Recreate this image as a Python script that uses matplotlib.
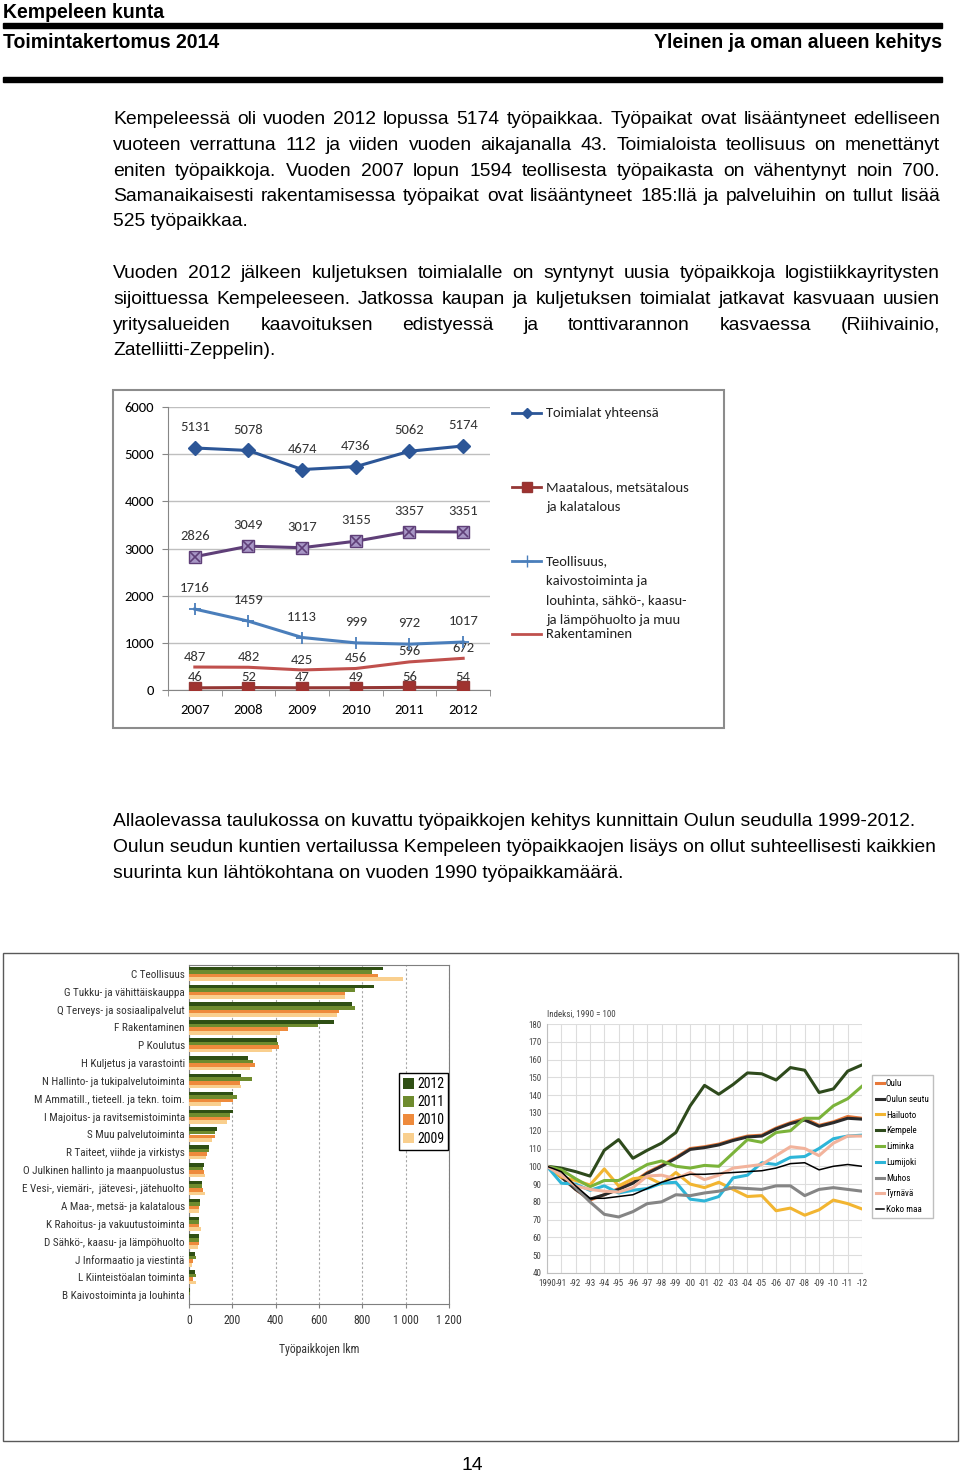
import numpy as np
import matplotlib
matplotlib.use('Agg')
import matplotlib.pyplot as plt
import matplotlib.font_manager as fm
from matplotlib.patches import Rectangle
from matplotlib.lines import Line2D

# fonttien valinta
names = {f.name for f in fm.fontManager.ttflist}

def pick(*cands):
    for c in cands:
        if c in names:
            return c
    return 'DejaVu Sans'

SANS = pick('Liberation Sans', 'Arimo', 'DejaVu Sans')
NARROW = pick('Liberation Sans Narrow', 'Arial Narrow', 'Roboto Condensed', 'Roboto')
NF = 1.0 if 'Narrow' in NARROW or 'Condensed' in NARROW else 0.85
CAL = pick('Carlito', 'Lato', 'Open Sans')

# --- kaavio 1: työpaikat toimialoittain ---
years1 = ['2007', '2008', '2009', '2010', '2011', '2012']
total = [5131, 5078, 4674, 4736, 5062, 5174]
services = [2826, 3049, 3017, 3155, 3357, 3351]
industry = [1716, 1459, 1113, 999, 972, 1017]
construction = [487, 482, 425, 456, 596, 672]
agriculture = [46, 52, 47, 49, 56, 54]

# --- kaavio 2: työpaikat toimialoittain 2009-2012 ---
branches = ['C Teollisuus', 'G Tukku- ja vähittäiskauppa', 'Q Terveys- ja sosiaalipalvelut',
            'F Rakentaminen', 'P Koulutus', 'H Kuljetus ja varastointi',
            'N Hallinto- ja tukipalvelutoiminta', 'M Ammatill., tieteell. ja tekn. toim.',
            'I Majoitus- ja ravitsemistoiminta', 'S Muu palvelutoiminta',
            'R Taiteet, viihde ja virkistys', 'O Julkinen hallinto ja maanpuolustus',
            'E Vesi-, viemäri-,  jätevesi-, jätehuolto', 'A Maa-, metsä- ja kalatalous',
            'K Rahoitus- ja vakuutustoiminta', 'D Sähkö-, kaasu- ja lämpöhuolto',
            'J Informaatio ja viestintä', 'L Kiinteistöalan toiminta', 'B Kaivostoiminta ja louhinta']
bar_years = ['2012', '2011', '2010', '2009']
v2012 = [894, 854, 752, 669, 406, 272, 242, 205, 203, 129, 91, 69, 62, 52, 45, 45, 27, 27, 5]
v2011 = [845, 768, 768, 595, 409, 297, 289, 220, 191, 119, 91, 66, 62, 53, 44, 47, 33, 30, 3]
v2010 = [872, 718, 694, 457, 415, 305, 237, 205, 189, 122, 83, 70, 64, 48, 48, 47, 17, 20, 2]
v2009 = [986, 722, 685, 422, 382, 282, 238, 146, 174, 108, 77, 72, 72, 48, 55, 41, 13, 31, 2]
bar_colors = ['#2F4F14', '#6E8B2E', '#EE8A3C', '#F9CF8E']

# --- kaavio 3: indeksi 1990 = 100 ---
idx_years = np.arange(1990, 2013)
idx_labels = ['1990'] + ['-%02d' % (y % 100) for y in range(1991, 2013)]
municipalities = ['Oulu', 'Oulun seutu', 'Hailuoto', 'Kempele', 'Liminka',
                  'Lumijoki', 'Muhos', 'Tyrnävä', 'Koko maa']
oulu = [100, 94, 87, 81, 84, 87.5, 91, 96.5, 100.5, 105, 110, 111, 112.5, 115, 117, 117.5,
        121.5, 124.5, 127, 123, 125, 128, 127]
oulun_seutu = [100, 94, 87, 81.5, 84, 87, 90.5, 96, 100, 104.5, 109.5, 110.5, 112, 114.5,
               116.5, 117, 121, 124, 126, 122.5, 124.5, 127, 126.5]
hailuoto = [100, 94, 92, 89.5, 98.5, 89, 93, 94, 90, 96.5, 90, 88, 91, 87, 83, 83.5, 75,
            76.5, 72.5, 75.5, 81, 79, 76]
kempele = [100, 99, 97, 94.5, 109, 115, 104.5, 109, 113, 119, 134, 145.5, 140.5, 146, 152.5,
           152, 148.5, 155.5, 154, 141.5, 143.5, 153.5, 157]
liminka = [100, 98, 93, 88.5, 92, 92, 96.5, 101, 103, 100, 99, 100.5, 100, 107.5, 115, 113.5,
           119, 120, 127, 127, 134, 138, 145]
lumijoki = [100, 90.5, 90, 86.5, 89, 85, 86.5, 87.5, 90.5, 91, 81.5, 80.5, 83, 93.5, 95, 102,
            101, 105, 105.5, 110, 115.5, 117, 117.5]
muhos = [100, 96, 88, 80, 73, 71.5, 74.5, 79, 80, 84, 83.5, 85, 86, 88, 87.5, 87, 89, 89,
         83.5, 87, 88, 87, 86]
tyrnava = [100, 95, 89, 87, 86, 85.5, 88, 94.5, 95, 93, 96.5, 92.5, 95, 99, 100, 101, 106,
           111, 110, 106, 113, 117, 117]
koko_maa = [100, 97, 89, 82, 82, 83, 84, 87.5, 91, 93.5, 95.5, 95.5, 96, 96.5, 97, 97.5, 99,
            101.5, 102, 98, 100, 101, 100]
idx_series = [oulu, oulun_seutu, hailuoto, kempele, liminka, lumijoki, muhos, tyrnava, koko_maa]
idx_colors = ['#E8793A', '#2B2B2B', '#F2B531', '#2E4A1C', '#7BB33A', '#2DB5D8', '#858585',
              '#F2B39C', '#000000']

W, H = 960, 1474
fig = plt.figure(figsize=(W / 100, H / 100), dpi=100)
renderer = fig.canvas.get_renderer()


def fx(x):
    return x / W


def fy(y):
    return 1 - y / H


def px_axes(x0, y0, x1, y1):
    return fig.add_axes([fx(x0), fy(y1), (x1 - x0) / W, (y1 - y0) / H])


def rect(x0, y0, x1, y1, **kw):
    fig.add_artist(Rectangle((fx(x0), fy(y1)), (x1 - x0) / W, (y1 - y0) / H,
                             transform=fig.transFigure, **kw))


def text_w(s, **kw):
    t = fig.text(0, 0, s, **kw)
    w = t.get_window_extent(renderer).width
    t.remove()
    return w


def fit_size(s, width, base=12, **kw):
    return base * width / text_w(s, size=base, **kw)


# otsikko
hsize = fit_size('Yleinen ja oman alueen kehitys', 287, family=SANS, weight='bold')
fig.text(fx(3), fy(12), 'Kempeleen kunta', family=SANS, weight='bold', size=hsize, va='center')
rect(3, 23, 942, 28, color='black')
fig.text(fx(3), fy(42), 'Toimintakertomus 2014', family=SANS, weight='bold', size=hsize, va='center')
fig.text(fx(942), fy(42), 'Yleinen ja oman alueen kehitys', family=SANS, weight='bold',
         size=hsize, va='center', ha='right')
rect(3, 77, 942, 82, color='black')

# leipäteksti
bsize = fit_size('Allaolevassa taulukossa on kuvattu työpaikkojen kehitys kunnittain Oulun seudulla 1999-2012.',
                 805, family=SANS)
TX0, TX1 = 113, 940


def paragraph(lines, y0, step, justify=True):
    for i, line in enumerate(lines):
        y = fy(y0 + i * step)
        last = i == len(lines) - 1
        if not justify or last:
            fig.text(fx(TX0), y, line, family=SANS, size=bsize, va='center')
            continue
        words = line.split()
        ws = [text_w(w, family=SANS, size=bsize) for w in words]
        gap = (TX1 - TX0 - sum(ws)) / (len(words) - 1)
        x = TX0
        for w, wd in zip(words, ws):
            fig.text(fx(x), y, w, family=SANS, size=bsize, va='center')
            x += wd + gap


paragraph(['Kempeleessä oli vuoden 2012 lopussa 5174 työpaikkaa. Työpaikat ovat lisääntyneet edelliseen',
           'vuoteen verrattuna 112 ja viiden vuoden aikajanalla 43. Toimialoista teollisuus on menettänyt',
           'eniten työpaikkoja. Vuoden 2007 lopun 1594 teollisesta työpaikasta on vähentynyt noin 700.',
           'Samanaikaisesti rakentamisessa työpaikat ovat lisääntyneet 185:llä ja palveluihin on tullut lisää',
           '525 työpaikkaa.'], 120, 25.5)
paragraph(['Vuoden 2012 jälkeen kuljetuksen toimialalle on syntynyt uusia työpaikkoja logistiikkayritysten',
           'sijoittuessa Kempeleeseen. Jatkossa kaupan ja kuljetuksen toimialat jatkavat kasvuaan uusien',
           'yritysalueiden kaavoituksen edistyessä ja tonttivarannon kasvaessa (Riihivainio,',
           'Zatelliitti-Zeppelin).'], 274, 25.5)
paragraph(['Allaolevassa taulukossa on kuvattu työpaikkojen kehitys kunnittain Oulun seudulla 1999-2012.',
           'Oulun seudun kuntien vertailussa Kempeleen työpaikkaojen lisäys on ollut suhteellisesti kaikkien',
           'suurinta kun lähtökohtana on vuoden 1990 työpaikkamäärä.'], 822, 25.5, justify=False)

fig.text(fx(472), fy(1466), '14', family=SANS, size=bsize, ha='center', va='center')

# ---------------- kaavio 1 ----------------
rect(113, 390, 724, 728, fill=False, edgecolor='#8C8C8C', lw=1.5)
ax1 = px_axes(168, 407, 490, 690)
x1 = np.arange(len(years1))
ax1.set_xlim(-0.5, 5.5)
ax1.set_ylim(0, 6000)
ax1.set_yticks(range(0, 6001, 1000))
ax1.set_xticks(x1)
ax1.set_xticklabels(years1)
ax1.set_xticks(np.arange(-0.5, 6, 1), minor=True)
ax1.yaxis.grid(True, color='#BFBFBF', lw=1)
ax1.set_axisbelow(True)
for s in ['top', 'right']:
    ax1.spines[s].set_visible(False)
for s in ['left', 'bottom']:
    ax1.spines[s].set_color('#868686')
ax1.tick_params(axis='y', length=4, color='#868686', labelsize=10.5, pad=6)
ax1.tick_params(axis='x', which='major', length=0, labelsize=10.5, pad=10)
ax1.tick_params(axis='x', which='minor', length=4, color='#868686')
for lab in ax1.get_xticklabels() + ax1.get_yticklabels():
    lab.set_family(CAL)

c_total, c_serv, c_ind, c_con, c_agr = '#2C5697', '#5F3F78', '#4A7EBB', '#C0504D', '#953735'
ax1.plot(x1, total, color=c_total, lw=2.2, marker='D', ms=7, zorder=4)
ax1.plot(x1, services, color=c_serv, lw=2.2, marker='s', ms=8, mfc='#A897C6', mec=c_serv, zorder=4)
ax1.plot(x1, services, ls='none', marker='x', ms=7, mec=c_serv, mew=1.2, zorder=5)
ax1.plot(x1, industry, color=c_ind, lw=2.2, marker='+', ms=9, mew=1.3, zorder=4)
ax1.plot(x1, construction, color=c_con, lw=2.2, zorder=4)
ax1.plot(x1, agriculture, color=c_agr, lw=2.2, marker='s', ms=9, mfc='#A0322F', zorder=4)

for series, off in [(total, 15), (services, 15), (industry, 15), (construction, 7.5), (agriculture, 7.5)]:
    for xi, v in zip(x1, series):
        ax1.annotate(str(v), (xi, v), xytext=(0, off), textcoords='offset points',
                     ha='center', va='center', family=CAL, size=10.5, color='#333333')

# käsin tehty selite
leg1 = [(413, c_total, dict(marker='D', ms=5), ['Toimialat yhteensä']),
        (487, c_agr, dict(marker='s', ms=7, mfc='#A0322F'), ['Maatalous, metsätalous', 'ja kalatalous']),
        (561, c_ind, dict(marker='+', ms=8, mew=1.0),
         ['Teollisuus,', 'kaivostoiminta ja', 'louhinta, sähkö-, kaasu-', 'ja lämpöhuolto ja muu']),
        (634, c_con, dict(), ['Rakentaminen'])]
for y, col, mk, lines in leg1:
    fig.add_artist(Line2D([fx(512), fx(541)], [fy(y), fy(y)], color=col, lw=2,
                          transform=fig.transFigure))
    if mk:
        fig.add_artist(Line2D([fx(526.5)], [fy(y)], color=col, ls='none',
                              transform=fig.transFigure, **mk))
    for k, line in enumerate(lines):
        fig.text(fx(546), fy(y + k * 19.7), line, family=CAL, size=10.5, va='center', color='#222222')

# ---------------- alakehys ----------------
rect(3, 953, 958, 1441, fill=False, edgecolor='#595959', lw=1)

# ---------------- kaavio 2 ----------------
ax2 = px_axes(189, 965, 449, 1304)
yy = np.arange(len(branches))
h = 0.2
for k, (vals, col, lab) in enumerate(zip([v2012, v2011, v2010, v2009], bar_colors, bar_years)):
    ax2.barh(yy - 0.3 + k * h, vals, height=h, color=col, label=lab, zorder=3)
ax2.set_ylim(len(branches) - 0.5, -0.5)
ax2.set_xlim(0, 1200)
ax2.set_xticks(range(0, 1201, 200))
ax2.set_xticklabels(['0', '200', '400', '600', '800', '1 000', '1 200'])
ax2.set_yticks(yy)
ax2.set_yticklabels(branches)
ax2.xaxis.grid(True, color='#A6A6A6', ls=(0, (2, 2)), lw=0.8)
for s in ax2.spines.values():
    s.set_color('#7F7F7F')
    s.set_linewidth(0.8)
ax2.tick_params(axis='y', length=0, pad=3, labelsize=8 * NF)
ax2.tick_params(axis='x', length=3, color='#7F7F7F', labelsize=8.5 * NF, pad=4)
for lab in ax2.get_xticklabels() + ax2.get_yticklabels():
    lab.set_family(NARROW)
    lab.set_color('#333333')
ax2.set_xlabel('Työpaikkojen lkm', family=NARROW, size=8.5 * NF, color='#333333', labelpad=12)
ax2.legend(loc='upper left', bbox_to_anchor=(fx(399), fy(1073)), bbox_transform=fig.transFigure,
           prop={'family': NARROW, 'size': 10 * NF}, frameon=True, fancybox=False,
           edgecolor='black', framealpha=1, handlelength=0.8, handleheight=0.8,
           handletextpad=0.2, labelspacing=0.3, borderpad=0.3, borderaxespad=0)

# ---------------- kaavio 3 ----------------
ax3 = px_axes(547, 1024, 862, 1273)
for vals, col, name in zip(idx_series, idx_colors, municipalities):
    lw = 1.1 if name == 'Koko maa' else 2.2
    ax3.plot(idx_years, vals, color=col, lw=lw, label=name)
ax3.set_xlim(1990, 2012)
ax3.set_ylim(40, 180)
ax3.set_yticks(range(40, 181, 10))
ax3.set_xticks(idx_years)
ax3.set_xticklabels(idx_labels)
ax3.grid(True, color='#DDDDDD', lw=0.8)
ax3.set_axisbelow(True)
for s in ['top', 'right']:
    ax3.spines[s].set_visible(False)
for s in ['left', 'bottom']:
    ax3.spines[s].set_color('#BFBFBF')
ax3.tick_params(length=0, labelsize=6.5 * NF, pad=4, colors='#444444')
for lab in ax3.get_xticklabels() + ax3.get_yticklabels():
    lab.set_family(NARROW)
fig.text(fx(547), fy(1014), 'Indeksi, 1990 = 100', family=NARROW, size=6.5 * NF,
         color='#444444', va='center')
fig.legend(handles=ax3.get_lines(), loc='upper left', bbox_to_anchor=(fx(872), fy(1075)),
           bbox_transform=fig.transFigure, prop={'family': NARROW, 'size': 6.5 * NF},
           frameon=True, fancybox=False, edgecolor='#BFBFBF', framealpha=1,
           handlelength=0.9, handletextpad=0.2, labelspacing=0.75, borderpad=0.45, borderaxespad=0)

fig.savefig('out.png', dpi=100)
